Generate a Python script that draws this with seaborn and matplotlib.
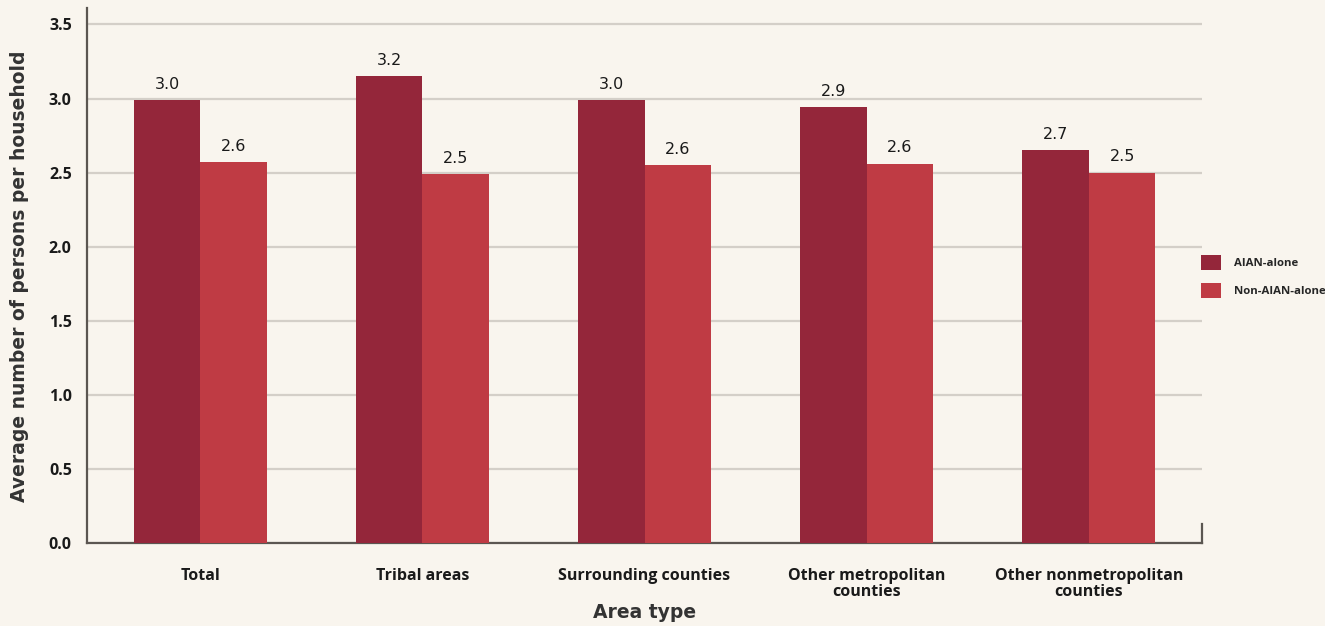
import matplotlib
matplotlib.use("Agg")
import matplotlib.pyplot as plt
import seaborn as sns
import pandas as pd
from matplotlib.patches import Patch
from matplotlib.font_manager import FontProperties

categories = ["Total", "Tribal areas", "Surrounding counties",
              "Other metropolitan\ncounties", "Other nonmetropolitan\ncounties"]
aian_alone = [2.99, 3.15, 2.99, 2.94, 2.65]
non_aian_alone = [2.57, 2.49, 2.55, 2.56, 2.50]
aian_labels = ["3.0", "3.2", "3.0", "2.9", "2.7"]
non_labels = ["2.6", "2.5", "2.6", "2.6", "2.5"]
series = ["AIAN-alone", "Non-AIAN-alone"]
yticks = [0.0, 0.5, 1.0, 1.5, 2.0, 2.5, 3.0, 3.5]

df = pd.DataFrame({
    "Area type": categories * 2,
    "value": aian_alone + non_aian_alone,
    "group": [series[0]] * len(categories) + [series[1]] * len(categories),
})

BG = "#F9F5EE"
colors = {"AIAN-alone": "#94263A", "Non-AIAN-alone": "#BF3B44"}

sns.set_theme(style="white")
plt.rcParams["font.family"] = ["DejaVu Sans"]

def narrow(size):
    return FontProperties(family=["Open Sans", "DejaVu Sans"], weight="bold",
                          stretch="condensed", size=size)

fig = plt.figure(figsize=(13.25, 6.26), dpi=100, facecolor=BG)
ax = fig.add_axes([0.0657, 0.1326, 0.9072 - 0.0657, 0.987 - 0.1326])
ax.set_facecolor(BG)

sns.barplot(data=df, x="Area type", y="value", hue="group", palette=colors,
            width=0.6, dodge=True, saturation=1, ax=ax, legend=False,
            edgecolor="none", linewidth=0, zorder=3)

ax.set_xlim(-0.51, 4.51)
ax.set_ylim(0, 3.61)
ax.set_yticks(yticks)
ax.set_yticklabels([f"{t:.1f}" for t in yticks])
ax.yaxis.grid(True, color="#D4CFC8", linewidth=1.6, zorder=0)
ax.set_axisbelow(True)

for lab in ax.get_yticklabels() + ax.get_xticklabels():
    lab.set_fontproperties(narrow(11.5))
    lab.set_color("#1a1a1a")
    lab.set_linespacing(1.0)
ax.tick_params(axis="both", length=0)
ax.tick_params(axis="y", pad=11)
ax.tick_params(axis="x", pad=18)

# value labels
for cont, labs in zip(ax.containers, [aian_labels, non_labels]):
    ax.bar_label(cont, labels=labs, padding=6, fontsize=11.5,
                 family="DejaVu Sans", color="#1a1a1a")

ax.spines["top"].set_visible(False)
for s in ["left", "bottom", "right"]:
    ax.spines[s].set_color("#5B5651")
    ax.spines[s].set_linewidth(1.6)
ax.spines["right"].set_bounds(0, 0.13)

ax.set_xlabel("Area type", fontsize=13.5, fontweight="bold", family="DejaVu Sans",
              color="#333333")
ax.xaxis.set_label_coords(0.5, -0.112)
ax.set_ylabel("Average number of persons per household", fontsize=13.5,
              fontweight="bold", family="DejaVu Sans", color="#333333")
ax.yaxis.set_label_coords(-0.052, 0.499)

handles = [Patch(facecolor=colors[s], edgecolor="none") for s in series]
fig.legend(handles, series, loc="upper left",
           bbox_to_anchor=(1201 / 1325, 1 - 255 / 626),
           frameon=False, borderpad=0, borderaxespad=0,
           handlelength=1.75, handleheight=1.7,
           handletextpad=1.15, labelspacing=1.1,
           prop=narrow(8.2))

fig.savefig("out.png", dpi=100, facecolor=BG)
